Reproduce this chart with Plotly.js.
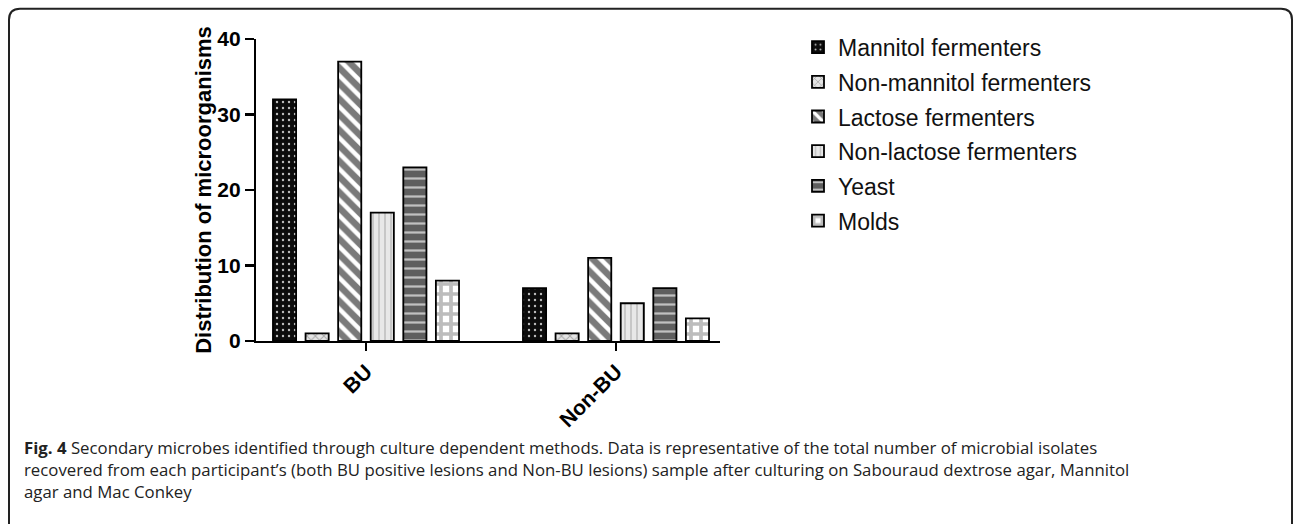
<!DOCTYPE html>
<html>
<head>
<meta charset="utf-8">
<script src="https://cdn.plot.ly/plotly-3.0.1.min.js"></script>
<style>
html,body{margin:0;padding:0;background:#fff;}
#chart{width:1295px;height:524px;}
</style>
</head>
<body>
<div id="chart"></div>
<script>
// ---- data ----
const categories = ["BU", "Non-BU"];
const seriesNames = ["Mannitol fermenters", "Non-mannitol fermenters", "Lactose fermenters",
                     "Non-lactose fermenters", "Yeast", "Molds"];
const mannitolFermenters    = [32, 7];
const nonMannitolFermenters = [1, 1];
const lactoseFermenters     = [37, 11];
const nonLactoseFermenters  = [17, 5];
const yeast                 = [23, 7];
const molds                 = [8, 3];
const yTicks = [0, 10, 20, 30, 40];

const seriesValues = [mannitolFermenters, nonMannitolFermenters, lactoseFermenters,
                      nonLactoseFermenters, yeast, molds];

// ---- styles ----
const patterns = [
  {shape: ".",  bgcolor: "#0c0c0c", fgcolor: "#bdbdbd", size: 6,  solidity: 0.12},
  {shape: "x",  bgcolor: "#e4e4e4", fgcolor: "#a8a8a8", size: 6,  solidity: 0.3},
  {shape: "\\", bgcolor: "#7a7a7a", fgcolor: "#ffffff", size: 11, solidity: 0.4},
  {shape: "|",  bgcolor: "#e8e8e8", fgcolor: "#c4c4c4", size: 6,  solidity: 0.3},
  {shape: "-",  bgcolor: "#5e5e5e", fgcolor: "#c0c0c0", size: 9,  solidity: 0.25},
  {shape: "+",  bgcolor: "#ffffff", fgcolor: "#bcbcbc", size: 10, solidity: 0.6}
];

const W = 1295, H = 524;
const L = 256, R = 720, T = 39.3, B = 340.7;
const X = p => (p - L) / (R - L);
const Y = p => (B - p) / (B - T);

const traces = seriesNames.map((name, i) => ({
  type: "bar",
  name: name,
  x: categories,
  y: seriesValues[i],
  legendgroup: "g" + i,
  marker: {
    color: patterns[i].bgcolor,
    line: {color: "#000", width: 1.8},
    pattern: Object.assign({fillmode: "replace"}, patterns[i])
  },
  hoverinfo: "x+y+name"
}));

const framePath =
  "M " + X(9) + "," + Y(530) +
  " L " + X(9) + "," + Y(20) +
  " Q " + X(9) + "," + Y(9) + " " + X(20) + "," + Y(9) +
  " L " + X(1281) + "," + Y(9) +
  " Q " + X(1292) + "," + Y(9) + " " + X(1292) + "," + Y(20) +
  " L " + X(1292) + "," + Y(530);

const captionFont = {family: "Open Sans", size: 16.8, color: "#222"};
const captionLines = [
  "<b>Fig. 4</b> Secondary microbes identified through culture dependent methods. Data is representative of the total number of microbial isolates",
  "recovered from each participant\u2019s (both BU positive lesions and Non-BU lesions) sample after culturing on Sabouraud dextrose agar, Mannitol",
  "agar and Mac Conkey"
];
const captionY = [447, 469, 491];

const layout = {
  width: W, height: H,
  margin: {l: L, r: W - R, t: T, b: H - B, pad: 0},
  paper_bgcolor: "#fff",
  plot_bgcolor: "rgba(0,0,0,0)",
  barmode: "group",
  bargap: 0.218,
  bargroupgap: 0.29,
  font: {family: "Liberation Sans, Arial", color: "#000"},
  xaxis: {
    type: "category",
    range: [-0.44, 1.416],
    showline: true, linecolor: "#000", linewidth: 2.2,
    ticks: "outside", ticklen: 8, tickwidth: 2.2, tickcolor: "#000",
    tickangle: -45,
    tickfont: {family: "Liberation Sans, Arial", size: 21, color: "#000", weight: "bold"},
    showgrid: false, zeroline: false, automargin: false, fixedrange: true
  },
  yaxis: {
    range: [0, 40],
    tickvals: yTicks,
    ticktext: yTicks.map(String),
    showline: true, linecolor: "#000", linewidth: 2.2,
    ticks: "outside", ticklen: 9, tickwidth: 2.2, tickcolor: "#000",
    tickfont: {family: "Liberation Sans, Arial", size: 21, color: "#000", weight: "bold"},
    title: {text: "<b>Distribution of microorganisms</b>", standoff: 0,
            font: {family: "Liberation Sans, Arial", size: 22, color: "#000"}},
    showgrid: false, zeroline: false, automargin: false, fixedrange: true
  },
  showlegend: true,
  legend: {
    x: X(798), xanchor: "left",
    y: Y(26), yanchor: "top",
    font: {family: "Liberation Sans, Arial", size: 23, color: "#111"},
    traceorder: "grouped",
    tracegroupgap: 1.8,
    bgcolor: "rgba(0,0,0,0)",
    borderwidth: 0
  },
  shapes: [{
    type: "path", xref: "paper", yref: "paper", path: framePath,
    line: {color: "#222", width: 2}, layer: "above"
  }],
  annotations: captionLines.map((t, i) => ({
    xref: "paper", yref: "paper",
    x: X(22), y: Y(captionY[i]),
    xanchor: "left", yanchor: "middle",
    text: t, showarrow: false, font: captionFont, align: "left"
  }))
};

Plotly.newPlot("chart", traces, layout, {displayModeBar: false, staticPlot: true});
</script>
</body>
</html>
